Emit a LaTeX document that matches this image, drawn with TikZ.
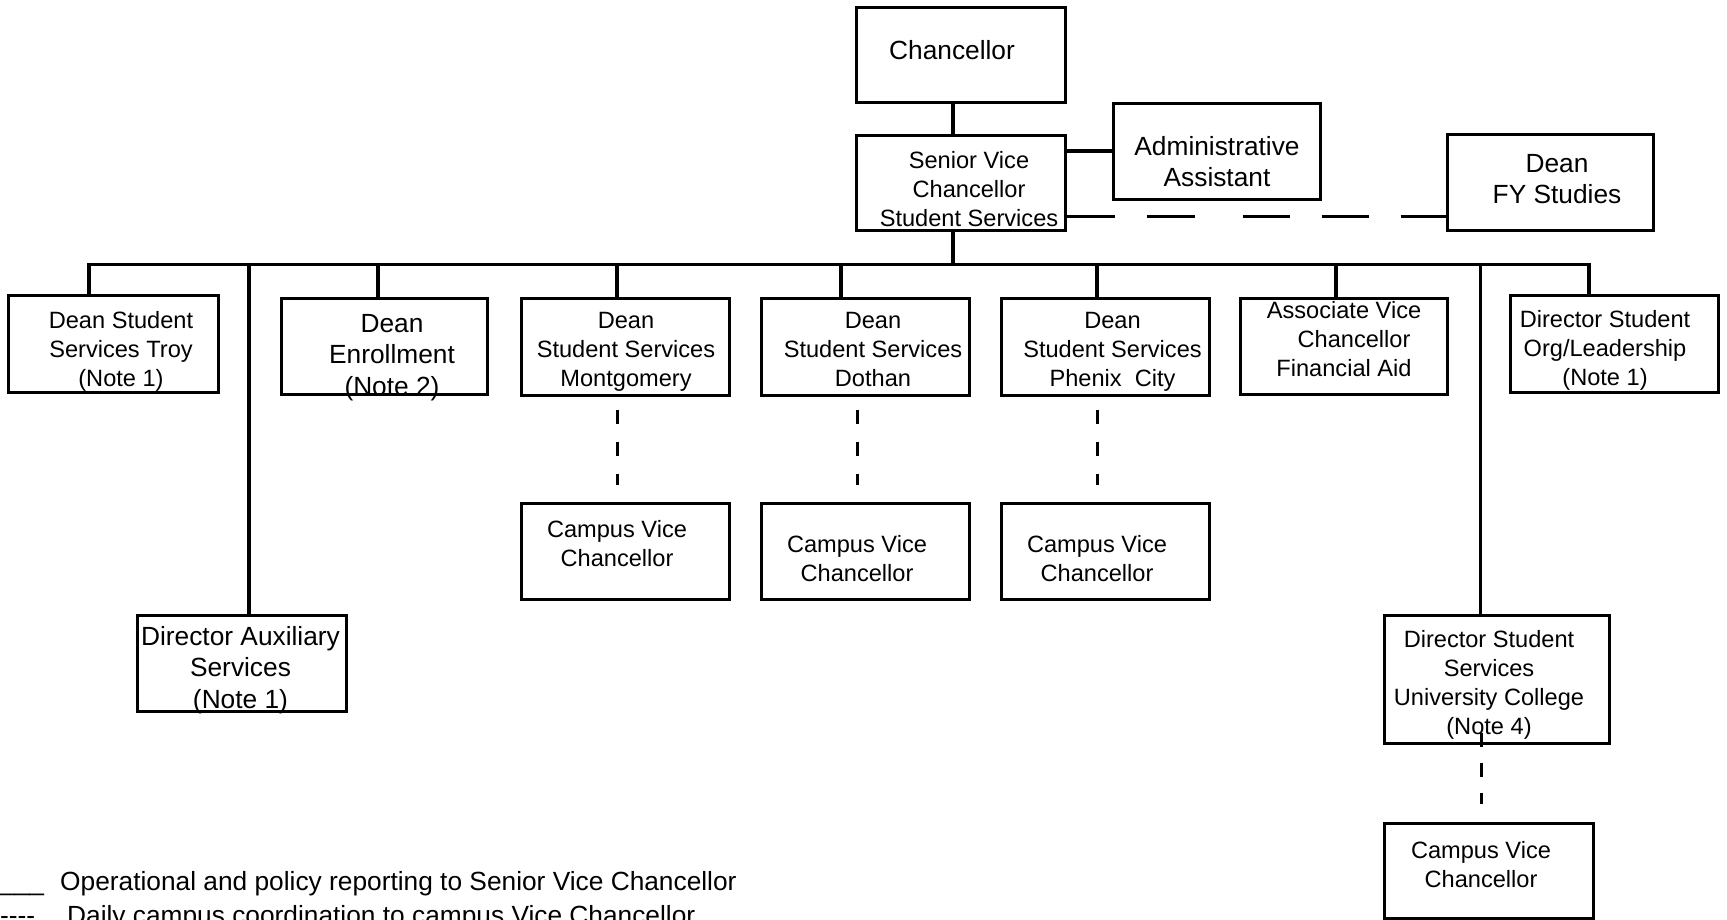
\documentclass[tikz,border=0pt]{standalone}
\usepackage{fontspec}
\setmainfont{Liberation Sans}
\newcommand{\mystr}{\rule{0pt}{1em}}
\begin{document}
\begin{tikzpicture}[x=1pt,y=-1pt,
  box/.style={draw, line width=3pt, inner sep=0pt},
  conn/.style={line width=3.5pt},
  dline/.style={line width=3pt, dash pattern=on 14pt off 18pt, shorten <=13pt, shorten >=17pt},
  sm/.style={font=\fontsize{23.6}{29}\selectfont, align=center, anchor=north, inner sep=0pt},
  lg/.style={font=\fontsize{26.3}{31.5}\selectfont, align=center, anchor=north, inner sep=0pt},
  leg/.style={font=\fontsize{26.3}{31.5}\selectfont, anchor=base west, inner sep=0pt}]
\useasboundingbox (0,0) rectangle (1727,919);
\fill[white] (0,0) rectangle (1727,919);
\clip (0,0) rectangle (1727,919);

% boxes
\node[box, minimum width=209pt, minimum height=95pt] (chan) at (960.5,54.5) {};
\node[box, minimum width=209pt, minimum height=95pt] (svc) at (960.5,182.5) {};
\node[box, minimum width=207pt, minimum height=96pt] (admin) at (1216.5,151) {};
\node[box, minimum width=206pt, minimum height=96pt] (fy) at (1550,182) {};
\node[box, minimum width=210pt, minimum height=97pt] (troy) at (113,343.5) {};
\node[box, minimum width=206pt, minimum height=96pt] (enroll) at (384,346) {};
\node[box, minimum width=208pt, minimum height=97pt] (mont) at (625,346.5) {};
\node[box, minimum width=208pt, minimum height=97pt] (dothan) at (865,346.5) {};
\node[box, minimum width=208pt, minimum height=97pt] (phenix) at (1105,346.5) {};
\node[box, minimum width=207pt, minimum height=96pt] (assoc) at (1343.5,346) {};
\node[box, minimum width=208pt, minimum height=97pt] (org) at (1614,343.5) {};
\node[box, minimum width=208pt, minimum height=96pt] (cvc1) at (625,551) {};
\node[box, minimum width=208pt, minimum height=96pt] (cvc2) at (865,551) {};
\node[box, minimum width=208pt, minimum height=96pt] (cvc3) at (1105,551) {};
\node[box, minimum width=209pt, minimum height=96pt] (aux) at (241.5,663) {};
\node[box, minimum width=225pt, minimum height=128pt] (uc) at (1496.5,679) {};
\node[box, minimum width=209pt, minimum height=95pt] (cvc4) at (1488.5,870.5) {};

% connectors
\coordinate (busL) at (89,264.5);
\coordinate (busR) at (1589,264.5);
\coordinate (dl) at (0,216);
\draw[conn] ([xshift=-7.5pt]chan.south) -- ([xshift=-7.5pt]svc.north);
\draw[conn] (svc.east |- admin.west) -- (admin.west);
\draw[line width=3pt, dash pattern=on 48pt off 32pt on 48pt off 48pt on 47pt off 32pt on 47pt off 32pt on 48pt off 32pt]
  (svc.east |- dl) -- (fy.west |- dl);
\draw[conn] (troy.north -| busL) -- (busL) -- (busR) -- (org.north -| busR);
\draw[conn] ([xshift=-7.5pt]svc.south) -- ([xshift=-7.5pt]svc.south |- busL);
\draw[conn] ([xshift=7.5pt]aux.north |- busL) -- ([xshift=7.5pt]aux.north);
\draw[conn] ([xshift=-6pt]enroll.north |- busL) -- ([xshift=-6pt]enroll.north);
\draw[conn] ([xshift=-8pt]mont.north |- busL) -- ([xshift=-8pt]mont.north);
\draw[conn] ([xshift=-24pt]dothan.north |- busL) -- ([xshift=-24pt]dothan.north);
\draw[conn] ([xshift=-8pt]phenix.north |- busL) -- ([xshift=-8pt]phenix.north);
\draw[conn] ([xshift=-7.5pt]assoc.north |- busL) -- ([xshift=-7.5pt]assoc.north);
\draw[conn] ([xshift=-16pt]uc.north |- busL) -- ([xshift=-16pt]uc.north);

\draw[dline] ([xshift=-8pt]mont.south) -- ([xshift=-8pt]mont.south |- cvc1.north);
\draw[dline] ([xshift=-8pt]dothan.south) -- ([xshift=-8pt]dothan.south |- cvc2.north);
\draw[dline] ([xshift=-8pt]phenix.south) -- ([xshift=-8pt]phenix.south |- cvc3.north);
\draw[line width=3pt, dash pattern=on 14pt off 16pt, shorten <=-12pt, shorten >=18pt]
  ([xshift=-15pt]uc.south) -- ([xshift=-15pt]uc.south |- cvc4.north);

% texts
\node[lg] (tchan) at (952,32.7) {\mystr Chancellor};
\node[sm] (tsvc) at (969,144.4) {\mystr Senior Vice\\Chancellor\\Student Services};
\node[lg] (tadmin) at (1217,128.7) {\mystr Administrative\\Assistant};
\node[lg] (tfy) at (1557,145.7) {\mystr Dean\\FY Studies};
\node[sm] (ttroy) at (121,304.4) {\mystr Dean Student\\Services Troy\\(Note 1)};
\node[lg] (tenroll) at (392,305.7) {\mystr Dean\\Enrollment\\(Note 2)};
\node[sm] (tmont) at (626,304.4) {\mystr Dean\\Student Services\\Montgomery};
\node[sm] (tdothan) at (873,304.4) {\mystr Dean\\Student Services\\Dothan};
\node[sm] (tphenix) at (1112.5,304.4) {\mystr Dean\\Student Services\\Phenix\ \ City};
\node[sm] (tassoc) at (1344,294.4) {\mystr Associate Vice\\\hspace*{20pt}Chancellor\\Financial Aid};
\node[sm] (torg) at (1605,303.4) {\mystr Director Student\\Org/Leadership\\(Note 1)};
\node[sm] (tcvc1) at (617,513.4) {\mystr Campus Vice\\Chancellor};
\node[sm] (tcvc2) at (857,528.4) {\mystr Campus Vice\\Chancellor};
\node[sm] (tcvc3) at (1097,528.4) {\mystr Campus Vice\\Chancellor};
\node[lg] (taux) at (240.5,618.7) {\mystr Director Auxiliary\\Services\\(Note 1)};
\node[sm] (tuc) at (1489,623.4) {\mystr Director Student\\Services\\University College\\(Note 4)};
\node[sm] (tcvc4) at (1481,834.4) {\mystr Campus Vice\\Chancellor};

% legend
\node[leg] (leg1a) at (0,890) {\_\_\_};
\node[leg] (leg1b) at (60,890) {Operational and policy reporting to Senior Vice Chancellor};
\node[leg] (leg2a) at (0,924) {-{}-{}-{}-};
\node[leg] (leg2b) at (67,924) {Daily campus coordination to campus Vice Chancellor};
\end{tikzpicture}
\end{document}
